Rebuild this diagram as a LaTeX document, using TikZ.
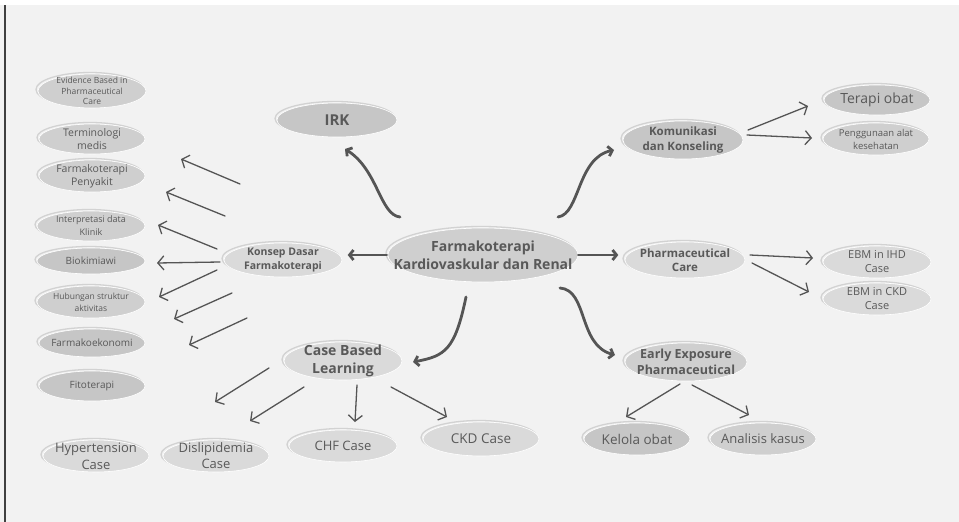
\documentclass[tikz,border=0pt]{standalone}
\usepackage{fontspec}
\setmainfont{Open Sans}
\usetikzlibrary{shapes.geometric,arrows.meta}

\definecolor{paper}{HTML}{F2F2F2}
\definecolor{inkgray}{HTML}{595959}
\definecolor{bubdark}{HTML}{C6C6C6}
\definecolor{bubmid}{HTML}{CFCFCF}
\definecolor{bublight}{HTML}{DADADA}
\definecolor{ringgray}{HTML}{D2D2D2}
\definecolor{arrgray}{HTML}{555555}

\tikzset{
  bubble/.style n args={3}{ellipse, fill=#3, minimum width=#1pt, minimum height=#2pt,
    inner xsep=-90pt, inner ysep=-40pt, align=center, text=inkgray,
    draw=white, line width=0.6pt,
    preaction={draw=ringgray, line width=1.3pt, transform canvas={xshift=-2pt, yshift=1.5pt}}},
  thinarr/.style={draw=arrgray, line width=1.3pt, line cap=round,
    -{Straight Barb[length=6pt, width=14pt]}},
  thickarr/.style={draw=arrgray, line width=2.8pt, line cap=round,
    -{Straight Barb[length=4pt, width=10pt]}},
}

\begin{document}
\begin{tikzpicture}[x=1pt, y=-1pt]
  \useasboundingbox (0,0) rectangle (959,522);
  \fill[white] (0,0) rectangle (959,522);
  \fill[paper] (0,5) rectangle (959,522);
  \draw[black!75, line width=2pt] (5,5) -- (5,522);

  % centre and main branches
  \node[bubble={190}{54}{bubmid}, font=\bfseries\fontsize{14}{18}\selectfont] (hub) at (483,255)
    {Farmakoterapi\\Kardiovaskular dan Renal};
  \node[bubble={120}{34}{bubdark}, font=\bfseries\fontsize{15}{18}\selectfont] (irk) at (337,120) {IRK};
  \node[bubble={120}{38}{bubdark}, font=\bfseries\fontsize{11.5}{15}\selectfont] (kom) at (683,140)
    {Komunikasi\\dan Konseling};
  \node[bubble={120}{36}{bublight}, font=\bfseries\fontsize{11.5}{14}\selectfont] (pc) at (685,260)
    {Pharmaceutical\\Care};
  \node[bubble={122}{38}{bubmid}, font=\bfseries\fontsize{12.5}{16}\selectfont] (eep) at (686,362)
    {Early Exposure\\Pharmaceutical};
  \node[bubble={118}{38}{bublight}, font=\bfseries\fontsize{14}{18}\selectfont] (cbl) at (343,361)
    {Case Based\\Learning};
  \node[bubble={118}{34}{bublight}, font=\bfseries\fontsize{10.5}{14}\selectfont] (konsep) at (283,260)
    {Konsep Dasar\\Farmakoterapi};

  % right side
  \node[bubble={106}{30}{bubdark}, font=\fontsize{14}{16}\selectfont] (terapi) at (877,100) {Terapi obat};
  \node[bubble={106}{32}{bubmid}, font=\fontsize{9.5}{13}\selectfont] (alat) at (876,139)
    {Penggunaan alat\\kesehatan};
  \node[bubble={108}{32}{bublight}, font=\fontsize{11}{14}\selectfont] (ihd) at (877,262) {EBM in IHD\\Case};
  \node[bubble={108}{32}{bublight}, font=\fontsize{11}{14}\selectfont] (ckdebm) at (877,299) {EBM in CKD\\Case};
  \node[bubble={106}{32}{bubdark}, font=\fontsize{13.5}{16}\selectfont] (kelola) at (637,439) {Kelola obat};
  \node[bubble={106}{32}{bubmid}, font=\fontsize{13}{16}\selectfont] (analisis) at (763,439) {Analisis kasus};

  % bottom cases
  \node[bubble={106}{32}{bublight}, font=\fontsize{13}{17}\selectfont] (hyper) at (96,456) {Hypertension\\Case};
  \node[bubble={106}{32}{bublight}, font=\fontsize{13}{16}\selectfont] (disli) at (216,456) {Dislipidemia\\Case};
  \node[bubble={108}{32}{bublight}, font=\fontsize{13}{16}\selectfont] (chf) at (343,446) {CHF Case};
  \node[bubble={116}{34}{bublight}, font=\fontsize{13.5}{16}\selectfont] (ckd) at (481,439) {CKD Case};

  % left list
  \node[bubble={108}{34}{bubmid}, font=\fontsize{8.5}{10.5}\selectfont] (ebpc) at (92,91)
    {Evidence Based in\\Pharmaceutical\\Care};
  \node[bubble={106}{30}{bubmid}, font=\fontsize{10.5}{13}\selectfont] (termi) at (92,139) {Terminologi\\medis};
  \node[bubble={106}{32}{bubmid}, font=\fontsize{10.5}{13}\selectfont] (fpeny) at (92,176) {Farmakoterapi\\Penyakit};
  \node[bubble={108}{30}{bubmid}, font=\fontsize{9}{13}\selectfont] (interp) at (91,226) {Interpretasi data\\Klinik};
  \node[bubble={108}{26}{bubdark}, font=\fontsize{10}{13}\selectfont] (bioki) at (91,261) {Biokimiawi};
  \node[bubble={108}{32}{bubmid}, font=\fontsize{8.5}{12}\selectfont] (hubung) at (91,302) {Hubungan struktur\\aktivitas};
  \node[bubble={106}{28}{bubdark}, font=\fontsize{10}{11}\selectfont] (fekon) at (92,343) {Farmakoekonomi};
  \node[bubble={106}{30}{bubdark}, font=\fontsize{10}{11}\selectfont] (fito) at (92,386) {Fitoterapi};

  % thick curved branches
  \coordinate (irk-s) at (400,217);  \coordinate (irk-e) at (345,149);
  \coordinate (kom-s) at (558,217);  \coordinate (kom-e) at (614,150);
  \coordinate (eep-s) at (560,288);  \coordinate (eep-e) at (615,355);
  \coordinate (cbl-s) at (466,297);  \coordinate (cbl-e) at (413,362);
  \draw[thickarr] (irk-s) .. controls (380,215) and (378,170) .. (irk-e);
  \draw[thickarr] (kom-s) .. controls (580,214) and (577,158) .. (kom-e);
  \draw[thickarr] (eep-s) .. controls (588,290) and (578,345) .. (eep-e);
  \draw[thickarr] (cbl-s) .. controls (455,350) and (445,356) .. (cbl-e);
  \draw[thickarr, shorten <=1pt] (hub.west) -- ([xshift=-40pt]hub.west);
  \draw[thickarr] (hub.east) -- ([xshift=40pt]hub.east);

  % thin arrows
  \foreach \n/\ax/\ay/\bx/\by in {1/240/184/181/159, 2/225/216/166/192, 3/217/249/158/225,
      4/220/262/157/263, 5/217/270/159/297, 6/232/293/174/319, 7/247/318/189/345,
      8/269/368/215/402, 9/304/387/250/421, 10/357/385/355/422, 11/391/387/447/417,
      12/748/130/808/106, 13/747/135/812/138, 14/750/255/813/258, 15/752/263/809/292,
      16/680/384/626/417, 17/692/385/749/415}{
    \coordinate (t\n) at (\ax,\ay);
    \coordinate (h\n) at (\bx,\by);
    \draw[thinarr] (t\n) -- (h\n);
  }
\end{tikzpicture}
\end{document}
